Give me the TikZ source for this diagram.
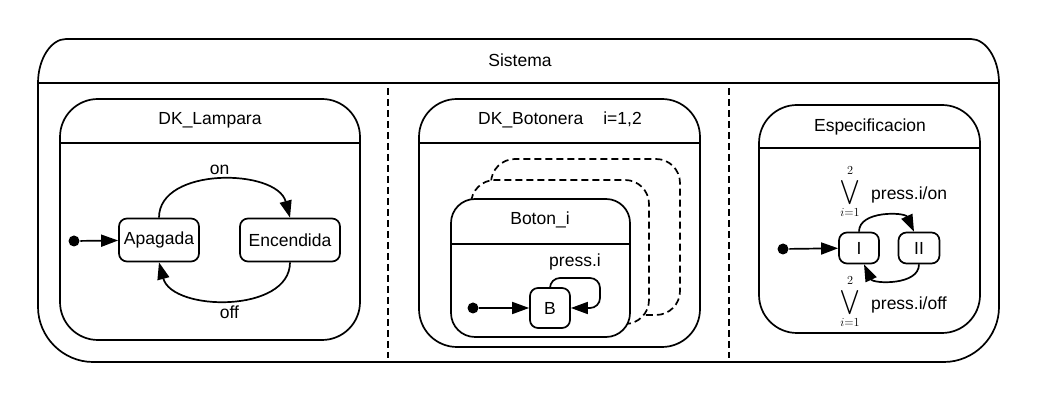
\RequirePackage{fix-cm}
\documentclass[tikz,border=0pt]{standalone}
\usepackage{amsmath}
\usepackage{exscale}
\usepackage{fontspec}
\setmainfont{Liberation Sans}
\usetikzlibrary{arrows.meta}

\begin{document}
\begin{tikzpicture}[x=1pt,y=1pt,line width=1.7pt,
        font=\fontsize{17.5}{21}\selectfont,
        caja/.style={rounded corners=38pt},
        subcaja/.style={rounded corners=24pt,fill=white},
        estado/.style={draw,rounded corners=8pt,inner sep=0pt},
        trans/.style={-{Triangle[length=17pt,width=12pt]}},
        inicio/.style={circle,fill,inner sep=0pt,minimum size=11pt},
        separa/.style={dash pattern=on 7pt off 4pt}]
    \useasboundingbox (0,0) rectangle (1040,403);
    % Sistema
    \draw (38,320) -- (38,96) .. controls (38,66) and (63,41) .. (93,41) -- (944,41)
        .. controls (974,41) and (999,66) .. (999,96) -- (999,320)
        .. controls (999,344) and (986,364) .. (971,364) -- (66,364)
        .. controls (51,364) and (38,344) .. (38,320) -- cycle;
    \draw (38,320) -- (999,320);
    \node (sistema) at (520,343) {Sistema};
    \draw[separa] (388,315) -- (388,45);
    \draw[separa] (729,315) -- (729,45);
    % DK_Lampara
    \draw[caja] (60,63) rectangle (360,304);
    \draw (60,260) -- (360,260);
    \node (lampara) at (210,283) {DK\_Lampara};
    \node[inicio] (ini1) at (74,162) {};
    \node[estado,minimum width=80pt,minimum height=43pt] (apagada) at (159,163) {Apagada};
    \node[estado,minimum width=100pt,minimum height=43pt] (encendida) at (290,163) {Encendida};
    \draw[trans] (ini1) -- (apagada);
    \draw[trans] (apagada.north) to[out=90,in=105] node[above=1pt] {on} (encendida.north);
    \draw[trans] (encendida.south) to[out=-90,in=-75] node[below=2pt] {off} (apagada.south);
    % DK_Botonera
    \draw[caja] (419,56) rectangle (700,304);
    \draw (419,260) -- (700,260);
    \node (botonera) at (560,283) {DK\_Botonera\hspace{1.15em}i=1,2};
    \draw[subcaja,separa] (491,88) rectangle (680,244);
    \draw[subcaja,separa] (471,79) rectangle (649,223);
    \draw[subcaja] (451,66) rectangle (630,204);
    \draw (451,159) -- (630,159);
    \node (boton) at (540,183) {Boton\_i};
    \node[inicio] (ini2) at (473,95) {};
    \node[estado,minimum size=40pt] (b) at (550,95) {B};
    \draw[trans] (ini2) -- (b);
    \draw[trans,rounded corners=10pt] (b.north) |- (600,125) |- (b.east);
    \node (pressi) at (575,141) {press.i};
    % Especificacion
    \draw[caja] (759,70) rectangle (980,298);
    \draw (759,255) -- (980,255);
    \node (espec) at (870,276) {Especificacion};
    \node[inicio] (ini3) at (783,154) {};
    \node[estado,minimum width=40pt,minimum height=31pt] (uno) at (859,155) {I};
    \node[estado,minimum width=41pt,minimum height=31pt] (dos) at (919,155) {II};
    \draw[trans] (ini3) -- (uno);
    \draw[trans] (uno.north) to[out=90,in=115] ([xshift=-5pt]dos.north);
    \draw[trans] (dos.south) to[out=-90,in=-65] ([xshift=5pt]uno.south);
    \node (vee1) at (850,211) {$\displaystyle\bigvee_{i=1}^{2}$};
    \node[anchor=west] (presson) at (867,208) {press.i/on};
    \node (vee2) at (850,101) {$\displaystyle\bigvee_{i=1}^{2}$};
    \node[anchor=west] (pressoff) at (867,98) {press.i/off};
\end{tikzpicture}
\end{document}
